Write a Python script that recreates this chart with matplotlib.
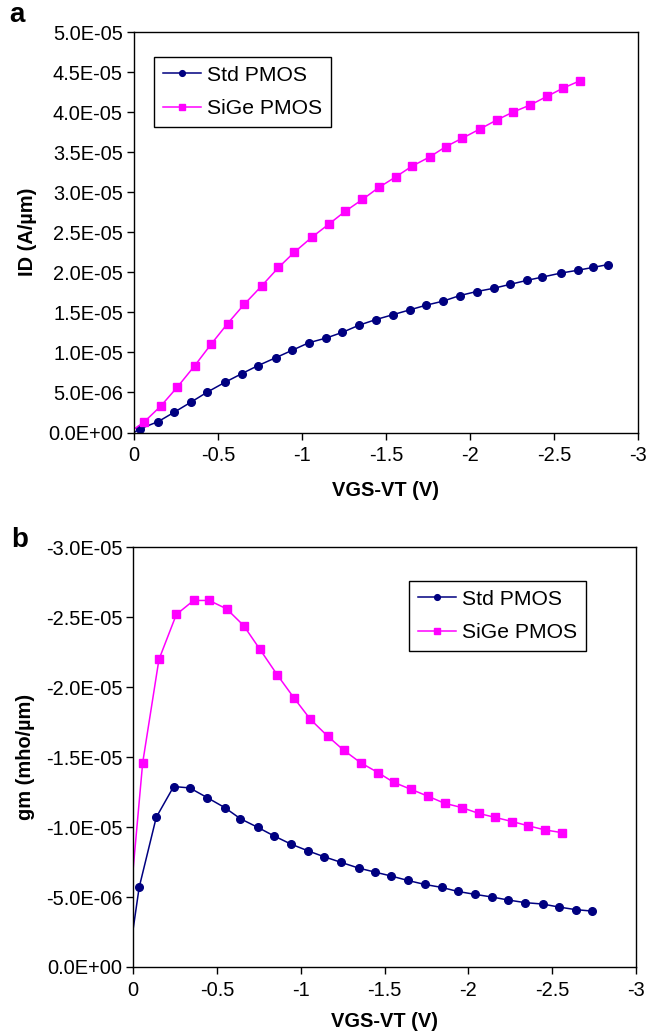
import matplotlib
matplotlib.use("Agg")
import matplotlib.pyplot as plt
from matplotlib.ticker import FuncFormatter, MultipleLocator

plt.rcParams['font.family'] = ['Liberation Sans', 'DejaVu Sans']

# ---- Panel a: ID vs VGS-VT ----
std_id_x = [0.064, -0.036, -0.145, -0.24, -0.34, -0.436, -0.54, -0.64, -0.736, -0.843, -0.94,
            -1.04, -1.145, -1.24, -1.34, -1.44, -1.54, -1.64, -1.74, -1.84, -1.94,
            -2.04, -2.14, -2.24, -2.34, -2.43, -2.54, -2.64, -2.73, -2.82]
std_id_y = [-0.8e-6, 0.46e-6, 1.37e-6, 2.54e-6, 3.8e-6, 5.04e-6, 6.25e-6, 7.33e-6, 8.33e-6, 9.33e-6, 10.25e-6,
            11.2e-6, 11.8e-6, 12.5e-6, 13.4e-6, 14.1e-6, 14.7e-6, 15.3e-6, 15.9e-6, 16.4e-6, 17.1e-6,
            17.6e-6, 18.0e-6, 18.5e-6, 19.0e-6, 19.4e-6, 19.9e-6, 20.25e-6, 20.6e-6, 20.96e-6]
sige_id_x = [0.037, -0.061, -0.159, -0.258, -0.361, -0.458, -0.557, -0.656, -0.76, -0.86, -0.954,
             -1.06, -1.159, -1.256, -1.36, -1.458, -1.557, -1.655, -1.76, -1.857, -1.955,
             -2.06, -2.158, -2.256, -2.36, -2.458, -2.555, -2.653]
sige_id_y = [-0.14e-6, 1.33e-6, 3.29e-6, 5.67e-6, 8.33e-6, 11.0e-6, 13.6e-6, 16.0e-6, 18.3e-6, 20.6e-6, 22.5e-6,
             24.4e-6, 26.0e-6, 27.6e-6, 29.1e-6, 30.6e-6, 31.9e-6, 33.25e-6, 34.4e-6, 35.7e-6, 36.75e-6,
             37.9e-6, 39.0e-6, 40.0e-6, 40.9e-6, 41.96e-6, 43.0e-6, 43.9e-6]

# ---- Panel b: gm vs VGS-VT ----
std_gm_x = [0.065, -0.035, -0.137, -0.241, -0.337, -0.442, -0.545, -0.639, -0.743, -0.838, -0.94,
            -1.045, -1.139, -1.24, -1.345, -1.44, -1.54, -1.637, -1.74, -1.84, -1.937,
            -2.04, -2.142, -2.236, -2.339, -2.443, -2.538, -2.64, -2.735]
std_gm_y = [2.6e-6, -5.69e-6, -10.7e-6, -12.9e-6, -12.8e-6, -12.1e-6, -11.4e-6, -10.6e-6, -9.98e-6, -9.38e-6, -8.79e-6,
            -8.29e-6, -7.88e-6, -7.48e-6, -7.07e-6, -6.79e-6, -6.5e-6, -6.19e-6, -5.9e-6, -5.69e-6, -5.4e-6,
            -5.19e-6, -5.0e-6, -4.79e-6, -4.6e-6, -4.5e-6, -4.29e-6, -4.1e-6, -4.0e-6]
sige_gm_x = [0.042, -0.056, -0.153, -0.257, -0.36, -0.453, -0.557, -0.659, -0.756, -0.858, -0.961,
             -1.057, -1.16, -1.255, -1.357, -1.46, -1.554, -1.657, -1.76, -1.858, -1.96,
             -2.061, -2.157, -2.26, -2.355, -2.456, -2.56]
sige_gm_y = [-1.5e-6, -14.6e-6, -21.98e-6, -25.2e-6, -26.2e-6, -26.2e-6, -25.6e-6, -24.4e-6, -22.7e-6, -20.9e-6, -19.2e-6,
             -17.7e-6, -16.5e-6, -15.5e-6, -14.6e-6, -13.9e-6, -13.2e-6, -12.7e-6, -12.2e-6, -11.7e-6, -11.4e-6,
             -10.98e-6, -10.7e-6, -10.4e-6, -10.1e-6, -9.8e-6, -9.6e-6]

labels = ["Std PMOS", "SiGe PMOS"]
xticks = [0, -0.5, -1, -1.5, -2, -2.5, -3]

W, H = 663, 1035
fig = plt.figure(figsize=(W / 100, H / 100), dpi=100)

ax1 = fig.add_axes([134 / W, 1 - 432.5 / H, 504 / W, 400.5 / H])
ax2 = fig.add_axes([133.3 / W, 1 - 967 / H, 502.7 / W, 419.7 / H])

navy = '#000080'
mag = '#FF00FF'
fs = 14.4

def sci(v, pos):
    if abs(v) < 1e-12:
        v = 0.0
    return f"{v:.1E}"

def xfmt(v, pos):
    if abs(v) < 1e-9:
        return "0"
    return f"{v:g}"

for ax, lp in ((ax1, 11), (ax2, 9)):
    ax.set_xlim(0, -3)
    ax.set_xticks(xticks)
    ax.xaxis.set_major_formatter(FuncFormatter(xfmt))
    ax.yaxis.set_major_formatter(FuncFormatter(sci))
    ax.tick_params(direction='out', length=5, width=1, labelsize=fs, top=False, right=False)
    ax.tick_params(axis='x', pad=5)
    ax.tick_params(axis='y', pad=3)
    for s in ax.spines.values():
        s.set_linewidth(1.0)
        s.set_color('black')
    ax.set_xlabel("VGS-VT (V)", fontsize=fs, fontweight='bold', labelpad=lp)

l1, = ax1.plot(std_id_x, std_id_y, color=navy, marker='o', markersize=5.5, lw=1.1, clip_on=True)
l2, = ax1.plot(sige_id_x, sige_id_y, color=mag, marker='s', markersize=5.8, lw=1.1, clip_on=True)
ax1.set_ylim(0, 5e-5)
ax1.yaxis.set_major_locator(MultipleLocator(5e-6))
ax1.set_ylabel("ID (A/µm)", fontsize=fs, fontweight='bold', labelpad=8)

m1, = ax2.plot(std_gm_x, std_gm_y, color=navy, marker='o', markersize=5.5, lw=1.1, clip_on=True)
m2, = ax2.plot(sige_gm_x, sige_gm_y, color=mag, marker='s', markersize=5.8, lw=1.1, clip_on=True)
ax2.set_ylim(0, -3e-5)
ax2.yaxis.set_major_locator(MultipleLocator(5e-6))
ax2.set_ylabel("gm (mho/µm)", fontsize=fs, fontweight='bold', labelpad=8)

leg_kw = dict(loc='upper left', frameon=True, fancybox=False, fontsize=15.2,
              handlelength=1.8, handletextpad=0.3, borderpad=0.42, labelspacing=0.68,
              markerscale=0.75, borderaxespad=0, bbox_transform=fig.transFigure)
lg1 = ax1.legend([l1, l2], labels, bbox_to_anchor=(154 / W, 1 - 57 / H), **leg_kw)
lg2 = ax2.legend([m1, m2], labels, bbox_to_anchor=(409 / W, 1 - 581 / H), **leg_kw)
for lg in (lg1, lg2):
    fr = lg.get_frame()
    fr.set_edgecolor('black')
    fr.set_linewidth(1.0)
    fr.set_alpha(1)

fig.text(17 / W, 1 - 15 / H, "a", fontsize=20, fontweight='bold', ha='center', va='center')
fig.text(20 / W, 1 - 540 / H, "b", fontsize=20, fontweight='bold', ha='center', va='center')

fig.savefig("out.png", dpi=100)
